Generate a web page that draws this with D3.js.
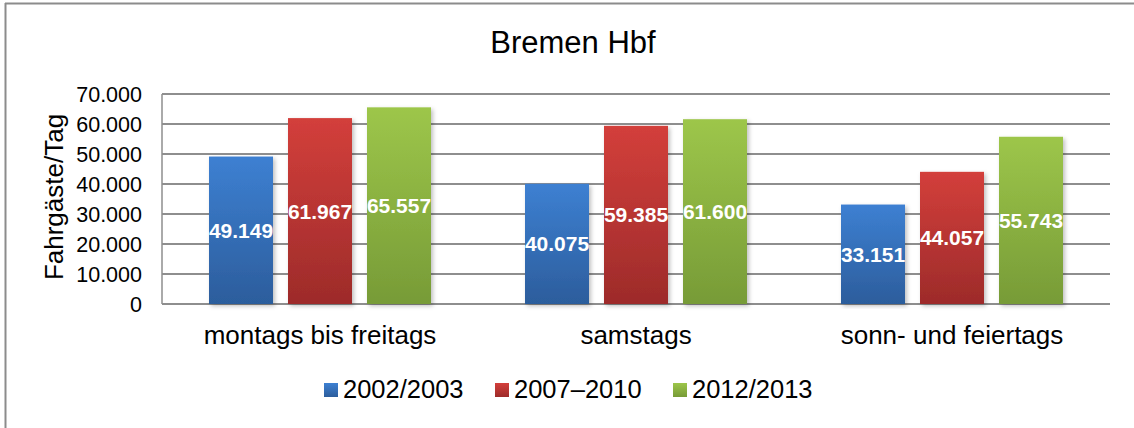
<!DOCTYPE html>
<html>
<head>
<meta charset="utf-8">
<script src="https://cdn.jsdelivr.net/npm/d3@7"></script>
<style>
  html, body { margin: 0; padding: 0; background: #fff; }
  svg { display: block; font-family: "Liberation Sans", Arial, sans-serif; }
</style>
</head>
<body>
<svg id="chart" width="1134" height="428"></svg>
<script>
const categories = ["montags bis freitags", "samstags", "sonn- und feiertags"];
const seriesNames = ["2002/2003", "2007\u20132010", "2012/2013"];
const values2002 = [49149, 40075, 33151];
const values2007 = [61967, 59385, 44057];
const values2012 = [65557, 61600, 55743];
const yTicks = [0, 10000, 20000, 30000, 40000, 50000, 60000, 70000];
const title = "Bremen Hbf";
const yTitle = "Fahrgäste/Tag";

const seriesValues = [values2002, values2007, values2012];
const colors = [
  { top: "#3d80d2", bottom: "#2c5d9c" },
  { top: "#d33f3b", bottom: "#9d2b2a" },
  { top: "#9dc64a", bottom: "#779b37" }
];

const fmt = v => d3.format(",")(v).replace(/,/g, ".");
const FONT = "'Liberation Sans', Arial, sans-serif";

const svg = d3.select("#chart");
const W = 1134, H = 428;
const plot = { left: 162, right: 1110, top: 94, bottom: 304 };

// outer frame (top and left visible)
svg.append("line").attr("x1", 5).attr("x2", W).attr("y1", 3.5).attr("y2", 3.5)
  .attr("stroke", "#8c8c8c").attr("stroke-width", 2);
svg.append("line").attr("x1", 5.5).attr("x2", 5.5).attr("y1", 3).attr("y2", H)
  .attr("stroke", "#8c8c8c").attr("stroke-width", 2);

const defs = svg.append("defs");
colors.forEach((c, i) => {
  const g = defs.append("linearGradient").attr("id", "grad" + i)
    .attr("x1", 0).attr("y1", 0).attr("x2", 0).attr("y2", 1);
  g.append("stop").attr("offset", "0%").attr("stop-color", c.top);
  g.append("stop").attr("offset", "100%").attr("stop-color", c.bottom);
});
const f = defs.append("filter").attr("id", "shadow")
  .attr("x", "-20%").attr("y", "-5%").attr("width", "140%").attr("height", "110%");
f.append("feDropShadow").attr("dx", 2).attr("dy", 2).attr("stdDeviation", 2)
  .attr("flood-color", "#000").attr("flood-opacity", 0.25);

const y = d3.scaleLinear().domain([0, 70000]).range([plot.bottom, plot.top]);
const x0 = d3.scaleBand().domain(categories).range([plot.left, plot.right]).paddingInner(0).paddingOuter(0);
const barW = 64, gap = 15;

// gridlines
svg.append("g").selectAll("line").data(yTicks).join("line")
  .attr("x1", plot.left).attr("x2", plot.right)
  .attr("y1", d => y(d)).attr("y2", d => y(d))
  .attr("stroke", "#8e8e8e").attr("stroke-width", 2);

// left axis line
svg.append("line").attr("x1", plot.left).attr("x2", plot.left)
  .attr("y1", plot.top).attr("y2", plot.bottom)
  .attr("stroke", "#8e8e8e").attr("stroke-width", 1.5);

// y axis labels
const yAxis = d3.axisLeft(y).tickValues(yTicks).tickFormat(fmt).tickSize(0).tickPadding(20);
const ya = svg.append("g").attr("transform", `translate(${plot.left},0)`).call(yAxis)
  .attr("font-size", 21.5).attr("font-family", FONT);
ya.select(".domain").remove();
ya.selectAll("text").attr("fill", "#000").attr("dy", "0.36em");

// bars
categories.forEach((cat, ci) => {
  const cx = x0(cat) + x0.bandwidth() / 2;
  seriesValues.forEach((vals, si) => {
    const v = vals[ci];
    const bx = cx + (si - 1) * (barW + gap) - barW / 2;
    svg.append("rect")
      .attr("x", bx).attr("y", y(v)).attr("width", barW).attr("height", y(0) - y(v))
      .attr("fill", `url(#grad${si})`).attr("filter", "url(#shadow)");
  });
});
// labels
categories.forEach((cat, ci) => {
  const cx = x0(cat) + x0.bandwidth() / 2;
  seriesValues.forEach((vals, si) => {
    const v = vals[ci];
    const lx = cx + (si - 1) * (barW + gap);
    svg.append("text")
      .attr("x", lx).attr("y", (y(v) + y(0)) / 2)
      .attr("text-anchor", "middle").attr("dy", "0.36em")
      .attr("font-size", 21).attr("font-weight", "bold").attr("fill", "#fff")
      .text(fmt(v));
  });
});

// x category labels
const xAxis = d3.axisBottom(x0).tickSize(0).tickPadding(0);
const xa = svg.append("g").attr("transform", `translate(0,${plot.bottom})`).call(xAxis)
  .attr("font-size", 26).attr("font-family", FONT);
xa.select(".domain").remove();
xa.selectAll("text").attr("fill", "#000").attr("y", 40).attr("dy", null);

// title
svg.append("text").attr("x", 573).attr("y", 53).attr("text-anchor", "middle")
  .attr("font-size", 31).attr("fill", "#000").text(title);

// y title
svg.append("text").attr("transform", "translate(63,197) rotate(-90)")
  .attr("text-anchor", "middle").attr("font-size", 26).attr("fill", "#000").text(yTitle);

// legend
const legendX = [324, 495, 673];
const lg = svg.append("g");
seriesNames.forEach((n, i) => {
  lg.append("rect").attr("x", legendX[i]).attr("y", 383).attr("width", 14).attr("height", 14)
    .attr("fill", `url(#grad${i})`);
  lg.append("text").attr("x", legendX[i] + 19).attr("y", 398)
    .attr("font-size", 25.5).attr("fill", "#000").text(n);
});
</script>
</body>
</html>
